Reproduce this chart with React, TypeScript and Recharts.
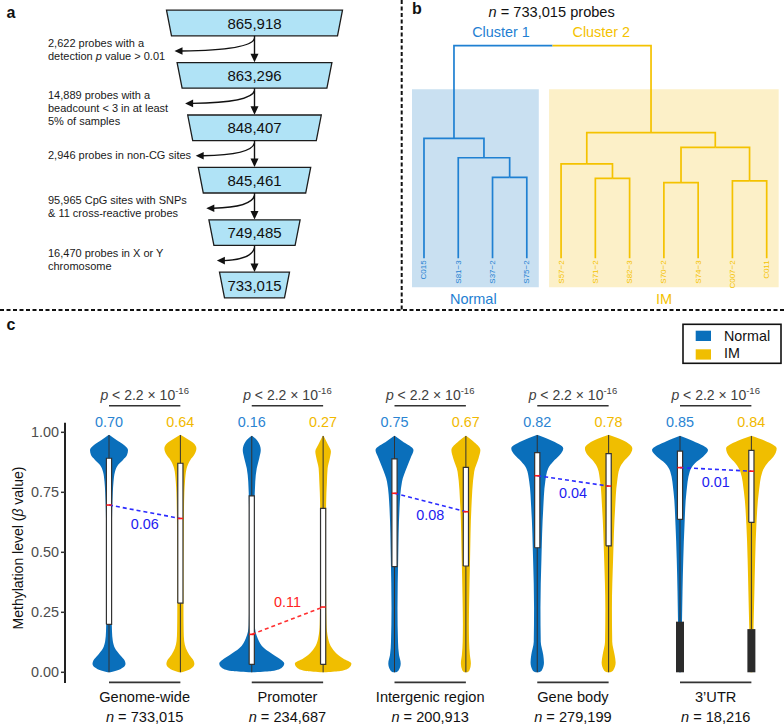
import React from "react";
import { Area, ComposedChart, Line, ReferenceLine, Scatter, XAxis, YAxis } from "recharts";

const FONT = '"Liberation Sans", Arial, Helvetica, sans-serif';
const BLUE = "#0a6fbb";
const YELLOW = "#f0be00";
const LABEL_BLUE = "#2a84d2";
const LABEL_YELLOW = "#f1b900";
const TREE_BLUE = "#1f80d2";
const TREE_YELLOW = "#f4c200";

// ---------- panel a: probe filtering funnel
const stageCounts = ["865,918", "863,296", "848,407", "845,461", "749,485", "733,015"];
const stageFilters = [
  ["2,622 probes with a", "detection *p* value > 0.01"],
  ["14,889 probes with a", "beadcount < 3 in at least", "5% of samples"],
  ["2,946 probes in non-CG sites"],
  ["95,965 CpG sites with SNPs", "& 11 cross-reactive probes"],
  ["16,470 probes in X or Y", "chromosome"],
  [],
];

// ---------- panel b: clustering dendrogram
const leafNames = ["C015", "S81\u22123", "S37\u22122", "S75\u22122", "S57\u22122", "S71\u22122", "S82\u22123", "S70\u22122", "S74\u22123", "C007\u22122", "C011"];
const leafGroups = ["Normal", "Normal", "Normal", "Normal", "IM", "IM", "IM", "IM", "IM", "IM", "IM"];
// merges: node ids 0..10 are leaves, merge k creates node 11 + k
const mergeLeft = [2, 1, 0, 5, 4, 7, 9, 16, 15, 13];
const mergeRight = [3, 11, 12, 6, 14, 8, 10, 17, 18, 19];
const mergeHeight = [0.381, 0.473, 0.564, 0.376, 0.444, 0.356, 0.364, 0.522, 0.591, 1.0];

// ---------- panel c: violins
const regionNames = ["Genome-wide", "Promoter", "Intergenic region", "Gene body", "3\u2019UTR"];
const regionN = ["733,015", "234,687", "200,913", "279,199", "18,216"];
const medianNormal = [0.697, 0.158, 0.746, 0.819, 0.853];
const medianIM = [0.641, 0.272, 0.669, 0.776, 0.838];
const deltaLabels = ["0.06", "0.11", "0.08", "0.04", "0.01"];
const q1Normal = [0.2, 0.033, 0.44, 0.519, 0.637];
const q3Normal = [0.892, 0.735, 0.889, 0.915, 0.922];
const q1IM = [0.288, 0.033, 0.443, 0.527, 0.625];
const q3IM = [0.871, 0.683, 0.854, 0.911, 0.925];
const lowWhiskerNormal = [0, 0, 0, 0, 0.211];
const lowWhiskerIM = [0, 0, 0, 0, 0.18];
const pMantissa = "2.2";
const pExponent = "-16";
const yTicks = [0, 0.25, 0.5, 0.75, 1];

// density profiles: [beta value, half width in px]
const gwNormal = [[0, 1.5], [0.006, 7], [0.02, 14], [0.036, 16.5], [0.05, 15.5], [0.072, 11], [0.1, 6], [0.13, 3.8], [0.17, 3], [0.25, 2.6], [0.4, 2.5], [0.55, 2.7], [0.68, 3.2], [0.75, 3.8], [0.794, 4.5], [0.836, 6], [0.864, 9], [0.885, 14], [0.905, 18], [0.926, 19], [0.947, 15], [0.968, 7.5], [0.989, 0.5]];
const gwIM = [[0, 1.5], [0.006, 6], [0.02, 12], [0.036, 14], [0.05, 13], [0.072, 9], [0.1, 5.5], [0.13, 3.8], [0.17, 3.3], [0.25, 3.1], [0.4, 3.1], [0.55, 3.3], [0.68, 3.6], [0.75, 4], [0.794, 4.6], [0.85, 6.3], [0.885, 10], [0.905, 13.7], [0.933, 16], [0.955, 13], [0.972, 7], [0.989, 0.5]];
const prNormal = [[0, 3], [0.005, 20], [0.019, 30], [0.037, 32.5], [0.051, 29.5], [0.072, 22], [0.1, 12.5], [0.141, 6], [0.197, 3], [0.3, 2.6], [0.5, 2.5], [0.7, 2.8], [0.794, 3.5], [0.85, 5], [0.892, 7.5], [0.926, 9], [0.964, 5.8], [0.985, 0.5]];
const prIM = [[0, 3], [0.005, 17], [0.019, 26], [0.037, 28.3], [0.058, 20], [0.072, 15], [0.1, 9], [0.141, 5], [0.2, 3.4], [0.3, 3], [0.5, 2.8], [0.7, 3], [0.794, 3.8], [0.85, 4.5], [0.892, 6.7], [0.92, 7.8], [0.947, 5], [0.985, 0.5]];
const igNormal = [[0, 1.5], [0.008, 4], [0.037, 6.2], [0.072, 4.5], [0.127, 3.5], [0.267, 3], [0.475, 3.7], [0.684, 5], [0.794, 7.5], [0.85, 12], [0.892, 16], [0.926, 19], [0.964, 7.5], [0.985, 0.5]];
const igIM = [[0, 1.5], [0.008, 3.5], [0.037, 5], [0.072, 4], [0.127, 3.2], [0.2, 3], [0.3, 3.3], [0.475, 4.2], [0.684, 5.5], [0.836, 8.3], [0.892, 12.7], [0.926, 14.5], [0.964, 7], [0.985, 0.5]];
const gbNormal = [[0, 1.5], [0.008, 4.5], [0.041, 6.7], [0.072, 6], [0.127, 3.5], [0.267, 3.2], [0.475, 4.2], [0.684, 6], [0.794, 8], [0.85, 11], [0.878, 16], [0.905, 22.5], [0.933, 26], [0.968, 13], [0.989, 0.5]];
const gbIM = [[0, 1.5], [0.008, 4.5], [0.041, 7], [0.072, 6], [0.127, 3.6], [0.267, 3.3], [0.475, 4.5], [0.684, 6.5], [0.794, 8.5], [0.85, 11], [0.878, 15], [0.905, 21], [0.933, 23.7], [0.968, 13.7], [0.989, 0.5]];
const utrNormal = [[0, 1], [0.21, 2], [0.336, 2.5], [0.475, 3.3], [0.614, 4.5], [0.753, 6.5], [0.836, 9.7], [0.871, 15], [0.898, 23], [0.926, 28], [0.964, 13], [0.985, 0.5]];
const utrIM = [[0, 1], [0.197, 2.2], [0.336, 3], [0.475, 3.8], [0.614, 5], [0.753, 7.5], [0.836, 11], [0.871, 16], [0.898, 22], [0.933, 25.3], [0.964, 14], [0.985, 0.5]];
const profilesNormal = [gwNormal, prNormal, igNormal, gbNormal, utrNormal];
const profilesIM = [gwIM, prIM, igIM, gbIM, utrIM];

const rich = (s: string) =>
  s.split("*").map((part, k) => (
    <tspan key={k} fontStyle={k % 2 === 1 ? "italic" : undefined}>{part}</tspan>
  ));

// ---------------- panel a
const funnelData = stageCounts.map((count, idx) => ({ col: 0, idx, count, filter: stageFilters[idx] }));

function FunnelStep(props: any) {
  const { cx, cy, payload } = props;
  if (cx == null || cy == null) return null;
  const topW = 176 - 21.2 * payload.idx;
  const botW = topW - 10;
  const hh = 12.8;
  const poly = [
    [cx - topW / 2, cy - hh],
    [cx + topW / 2, cy - hh],
    [cx + botW / 2, cy + hh],
    [cx - botW / 2, cy + hh],
  ]
    .map((p) => p.join(","))
    .join(" ");
  const lines: string[] = payload.filter;
  const tipX = cx - topW / 2 + 8;
  const tipY = cy + 28;
  const firstY = lines.length > 1 ? cy + 20 : cy + 27;
  return (
    <g>
      <polygon points={poly} fill="#b0e3f6" stroke="#1c1c1c" strokeWidth={1.3} />
      <text x={cx} y={cy} textAnchor="middle" dominantBaseline="central" fontSize={15} fill="#111" fontFamily={FONT}>
        {payload.count}
      </text>
      {lines.length > 0 && (
        <g>
          <line x1={cx} y1={cy + hh} x2={cx} y2={cy + hh + 19} stroke="#111" strokeWidth={1.4} />
          <path d={`M${cx - 4},${cy + hh + 18} L${cx},${cy + hh + 26.5} L${cx + 4},${cy + hh + 18} Z`} fill="#111" />
          <path d={`M${cx},${cy + hh + 2.5} Q${cx - 3},${tipY - 1} ${tipX + 7},${tipY}`} fill="none" stroke="#111" strokeWidth={1.4} />
          <path d={`M${tipX},${tipY} L${tipX + 8},${tipY - 3.8} L${tipX + 8},${tipY + 3.8} Z`} fill="#111" />
          {lines.map((ln, k) => (
            <text key={k} x={48} y={firstY + k * 13} dominantBaseline="central" fontSize={11} fill="#1a1a1a" fontFamily={FONT}>
              {rich(ln)}
            </text>
          ))}
        </g>
      )}
    </g>
  );
}

function FunnelPanel() {
  return (
    <ComposedChart width={400} height={310} margin={{ top: 0, right: 0, bottom: 0, left: 0 }}>
      <XAxis type="number" dataKey="col" domain={[-1.2725, 0.7275]} hide allowDataOverflow />
      <YAxis type="number" dataKey="idx" domain={[-0.439, 5.477]} reversed hide allowDataOverflow />
      <Scatter data={funnelData} shape={FunnelStep} isAnimationActive={false} />
    </ComposedChart>
  );
}

// ---------------- panel b
const nodeX: number[] = leafNames.map((_, i) => i);
const nodeH: number[] = leafNames.map(() => 0);
const nodeGroup: (string | null)[] = [...leafGroups];
mergeLeft.forEach((l, k) => {
  const r = mergeRight[k];
  nodeX.push((nodeX[l] + nodeX[r]) / 2);
  nodeH.push(mergeHeight[k]);
  nodeGroup.push(nodeGroup[l] === nodeGroup[r] ? nodeGroup[l] : null);
});
const groupColor = (g: string | null) => (g === "Normal" ? TREE_BLUE : TREE_YELLOW);
const treeLinks = mergeLeft.flatMap((l, k) => {
  const r = mergeRight[k];
  const h = mergeHeight[k];
  const id = leafNames.length + k;
  return [
    { key: `${k}l`, color: groupColor(nodeGroup[l]), pts: [{ x: nodeX[l], h: nodeH[l] }, { x: nodeX[l], h }, { x: nodeX[id], h }] },
    { key: `${k}r`, color: groupColor(nodeGroup[r]), pts: [{ x: nodeX[id], h }, { x: nodeX[r], h }, { x: nodeX[r], h: nodeH[r] }] },
  ];
});
const clusterBoxes = ["Normal", "IM"].map((g) => {
  const idx = leafGroups.map((v, i) => (v === g ? i : -1)).filter((i) => i >= 0);
  const lo = Math.min(...idx) - 0.35;
  const hi = Math.max(...idx) + 0.35;
  return {
    g,
    fill: g === "Normal" ? "#c9e0f1" : "#fcf0c8",
    pts: [{ x: lo, h: [-0.136, 0.795] }, { x: hi, h: [-0.136, 0.795] }],
  };
});
const leafData = leafNames.map((name, i) => ({ x: i, h: 0, name, color: groupColor(leafGroups[i]) }));

function LeafLabel(p: any) {
  const { cx, cy, payload } = p;
  const y = cy + 2;
  return (
    <text transform={`rotate(-90 ${cx} ${y})`} x={cx} y={y} textAnchor="end" dominantBaseline="central" fontSize={8} fill={payload.color} fontFamily={FONT}>
      {payload.name}
    </text>
  );
}

function TreePanel() {
  return (
    <ComposedChart width={384} height={300} margin={{ top: 0, right: 0, bottom: 0, left: 0 }}>
      <XAxis type="number" dataKey="x" domain={[-0.7, 10.505]} hide allowDataOverflow />
      <YAxis type="number" dataKey="h" domain={[-0.196, 1.215]} hide allowDataOverflow />
      {clusterBoxes.map((b) => (
        <Area key={b.g} data={b.pts} dataKey="h" type="linear" fill={b.fill} fillOpacity={1} stroke="none" isAnimationActive={false} />
      ))}
      {treeLinks.map((lk) => (
        <Line key={lk.key} data={lk.pts} dataKey="h" type="linear" stroke={lk.color} strokeWidth={1.7} dot={false} isAnimationActive={false} />
      ))}
      <Scatter data={leafData} shape={LeafLabel} isAnimationActive={false} />
    </ComposedChart>
  );
}

// ---------------- panel c
const PX = 1 / 71.375;
const BOX_HW = 2.6 * PX;
const OUT_HW = 4 * PX;
const VALUE_Y = 1.044;
const P_Y = 1.135;
const BRACKET_Y = 1.111;
const BASE_Y = -0.042;
const REGION_Y = -0.103;
const X_MIN = 0.3835;

const violins = regionNames.flatMap((_, g) =>
  [0, 1].map((s) => {
    const normal = s === 0;
    const c = 1 + 2 * g + s;
    const profile = normal ? profilesNormal[g] : profilesIM[g];
    return {
      key: `${g}-${s}`,
      c,
      color: normal ? BLUE : YELLOW,
      labelColor: normal ? LABEL_BLUE : LABEL_YELLOW,
      profile,
      top: profile[profile.length - 1][0],
      q1: normal ? q1Normal[g] : q1IM[g],
      q3: normal ? q3Normal[g] : q3IM[g],
      med: normal ? medianNormal[g] : medianIM[g],
      low: normal ? lowWhiskerNormal[g] : lowWhiskerIM[g],
    };
  })
);

const valueLabels = violins.map((v) => ({ x: v.c, y: VALUE_Y, text: v.med.toFixed(2), color: v.labelColor }));
const groupMids = regionNames.map((name, g) => ({ x: 2 + 2 * g - 0.5, g, name, n: regionN[g] }));
const deltaData = regionNames.map((_, g) => ({
  x: 1.5 + 2 * g,
  y: (medianNormal[g] + medianIM[g]) / 2,
  text: deltaLabels[g],
  up: medianIM[g] > medianNormal[g],
}));

function ValueLabel(p: any) {
  return (
    <text x={p.cx} y={p.cy} textAnchor="middle" dominantBaseline="central" fontSize={14.4} fill={p.payload.color} fontFamily={FONT}>
      {p.payload.text}
    </text>
  );
}
function PLabel(p: any) {
  return (
    <text x={p.cx} y={p.cy} textAnchor="middle" fontSize={14} fill="#404040" fontFamily={FONT}>
      <tspan fontStyle="italic">p</tspan>
      {` < ${pMantissa} \u00d7 10`}
      <tspan dy={-6} fontSize={9.5}>{pExponent}</tspan>
    </text>
  );
}
function DeltaLabel(p: any) {
  const up = p.payload.up;
  return (
    <text x={p.cx} y={p.cy + (up ? -19 : 12.5)} textAnchor="middle" dominantBaseline="central" fontSize={14.4} fill={up ? "#ff2222" : "#1c1cf0"} fontFamily={FONT}>
      {p.payload.text}
    </text>
  );
}
function RegionLabel(p: any) {
  return (
    <g fontFamily={FONT} fontSize={14.6} fill="#111" textAnchor="middle">
      <text x={p.cx} y={p.cy} dominantBaseline="central">{p.payload.name}</text>
      <text x={p.cx} y={p.cy + 20} dominantBaseline="central">
        <tspan fontStyle="italic">n</tspan>
        {` = ${p.payload.n}`}
      </text>
    </g>
  );
}

function ViolinPanel() {
  return (
    <ComposedChart layout="vertical" width={784} height={345} margin={{ top: 0, right: 0, bottom: 0, left: 0 }}>
      <XAxis type="number" dataKey="x" domain={[X_MIN, 10.457]} hide allowDataOverflow />
      <YAxis
        type="number"
        dataKey="y"
        domain={[-0.2196, 1.218]}
        reversed
        allowDataOverflow
        width={65}
        ticks={yTicks}
        interval={0}
        tickFormatter={(v: number) => v.toFixed(2)}
        axisLine={false}
        tickSize={4}
        tickMargin={2}
        tickLine={{ stroke: "#333", strokeWidth: 1.5 }}
        tick={{ fill: "#4d4d4d", fontSize: 14.4, fontFamily: FONT }}
      />
      <ReferenceLine ifOverflow="visible" segment={[{ x: X_MIN, y: -0.045 }, { x: X_MIN, y: 1.04 }]} stroke="#222" strokeWidth={2} />
      {violins.map((v) => (
        <Area
          key={`v${v.key}`}
          data={v.profile.slice().reverse().map(([y, w]) => ({ y, x: [v.c - w * PX, v.c + w * PX] }))}
          dataKey="x"
          type="monotone"
          fill={v.color}
          fillOpacity={1}
          stroke="none"
          isAnimationActive={false}
        />
      ))}
      {violins.map((v) => (
        <Line key={`wu${v.key}`} data={[{ y: v.q3, x: v.c }, { y: v.top, x: v.c }]} dataKey="x" stroke="#333" strokeWidth={1} dot={false} isAnimationActive={false} />
      ))}
      {violins.map((v) => (
        <Line key={`wl${v.key}`} data={[{ y: v.low, x: v.c }, { y: v.q1, x: v.c }]} dataKey="x" stroke="#333" strokeWidth={1} dot={false} isAnimationActive={false} />
      ))}
      {violins
        .filter((v) => v.low > 0)
        .map((v) => (
          <Area
            key={`o${v.key}`}
            data={[{ y: v.low, x: [v.c - OUT_HW, v.c + OUT_HW] }, { y: 0, x: [v.c - OUT_HW, v.c + OUT_HW] }]}
            dataKey="x"
            type="linear"
            fill="#2b2b2b"
            fillOpacity={1}
            stroke="none"
            isAnimationActive={false}
          />
        ))}
      {violins.map((v) => (
        <Area
          key={`bf${v.key}`}
          data={[{ y: v.q3, x: [v.c - BOX_HW, v.c + BOX_HW] }, { y: v.q1, x: [v.c - BOX_HW, v.c + BOX_HW] }]}
          dataKey="x"
          type="linear"
          fill="#ffffff"
          fillOpacity={1}
          stroke="none"
          isAnimationActive={false}
        />
      ))}
      {violins.map((v) => (
        <Line
          key={`bo${v.key}`}
          data={[
            { y: v.q1, x: v.c - BOX_HW },
            { y: v.q1, x: v.c + BOX_HW },
            { y: v.q3, x: v.c + BOX_HW },
            { y: v.q3, x: v.c - BOX_HW },
            { y: v.q1, x: v.c - BOX_HW },
          ]}
          dataKey="x"
          type="linear"
          stroke="#333"
          strokeWidth={1.2}
          dot={false}
          isAnimationActive={false}
        />
      ))}
      {regionNames.map((_, g) => (
        <Line
          key={`d${g}`}
          data={[{ y: medianNormal[g], x: 1 + 2 * g }, { y: medianIM[g], x: 2 + 2 * g }]}
          dataKey="x"
          type="linear"
          stroke={medianIM[g] > medianNormal[g] ? "#ff3030" : "#2a2aff"}
          strokeWidth={1.6}
          strokeDasharray="4 3"
          dot={false}
          isAnimationActive={false}
        />
      ))}
      {violins.map((v) => (
        <Line
          key={`m${v.key}`}
          data={[{ y: v.med, x: v.c - BOX_HW }, { y: v.med, x: v.c + BOX_HW }]}
          dataKey="x"
          stroke="#ff1a1a"
          strokeWidth={1.6}
          dot={false}
          isAnimationActive={false}
        />
      ))}
      {groupMids.map((m) => (
        <ReferenceLine key={`bt${m.g}`} ifOverflow="visible" segment={[{ x: m.x - 0.5, y: BRACKET_Y }, { x: m.x + 0.5, y: BRACKET_Y }]} stroke="#333" strokeWidth={1.6} />
      ))}
      {groupMids.map((m) => (
        <ReferenceLine key={`bb${m.g}`} ifOverflow="visible" segment={[{ x: m.x - 0.5, y: BASE_Y }, { x: m.x + 0.5, y: BASE_Y }]} stroke="#333" strokeWidth={1.6} />
      ))}
      <Scatter data={valueLabels} shape={ValueLabel} isAnimationActive={false} />
      <Scatter data={groupMids.map((m) => ({ x: m.x, y: P_Y }))} shape={PLabel} isAnimationActive={false} />
      <Scatter data={deltaData} shape={DeltaLabel} isAnimationActive={false} />
      <Scatter data={groupMids.map((m) => ({ ...m, y: REGION_Y }))} shape={RegionLabel} isAnimationActive={false} />
    </ComposedChart>
  );
}

export default function App() {
  return (
    <div style={{ position: "relative", width: 784, height: 725, overflow: "hidden", background: "#fff", fontFamily: FONT }}>
      <style>{"body{margin:0}"}</style>
      <svg width={784} height={725} style={{ position: "absolute", left: 0, top: 0 }} fontFamily={FONT}>
        <line x1={401.7} y1={0} x2={401.7} y2={310} stroke="#111" strokeWidth={2} strokeDasharray="4 2.5" />
        <line x1={0} y1={310} x2={784} y2={310} stroke="#111" strokeWidth={2} strokeDasharray="4 2.5" />
        <text x={6.5} y={18.3} fontSize={16} fontWeight="bold" fill="#111">a</text>
        <text x={412} y={13.5} fontSize={16} fontWeight="bold" fill="#111">b</text>
        <text x={6.5} y={330} fontSize={16} fontWeight="bold" fill="#111">c</text>
        <text x={551.7} y={16.6} fontSize={14.6} textAnchor="middle" fill="#111">
          <tspan fontStyle="italic">n</tspan> = 733,015 probes
        </text>
        <text x={501} y={37.3} fontSize={14.4} textAnchor="middle" fill={TREE_BLUE}>Cluster 1</text>
        <text x={601.3} y={37.3} fontSize={14.4} textAnchor="middle" fill={TREE_YELLOW}>Cluster 2</text>
        <text x={473.3} y={304} fontSize={14.5} textAnchor="middle" fill={TREE_BLUE}>Normal</text>
        <text x={664} y={304} fontSize={14.5} textAnchor="middle" fill={TREE_YELLOW}>IM</text>
        <rect x={683} y={324.3} width={98} height={39} fill="none" stroke="#111" strokeWidth={1.6} />
        <rect x={695.7} y={330.7} width={15.3} height={10.3} fill={BLUE} />
        <rect x={695.7} y={349.3} width={15.3} height={10.3} fill={YELLOW} />
        <text x={724} y={340.7} fontSize={14.3} fill="#111">Normal</text>
        <text x={724} y={358.3} fontSize={14.3} fill="#111">IM</text>
        <text x={18} y={548} fontSize={14} textAnchor="middle" dominantBaseline="central" fill="#111" transform="rotate(-90 18 548)">
          Methylation level (<tspan fontStyle="italic">β</tspan> value)
        </text>
      </svg>
      <div style={{ position: "absolute", left: 0, top: 0 }}>
        <FunnelPanel />
      </div>
      <div style={{ position: "absolute", left: 400, top: 0 }}>
        <TreePanel />
      </div>
      <div style={{ position: "absolute", left: 0, top: 380 }}>
        <ViolinPanel />
      </div>
    </div>
  );
}
